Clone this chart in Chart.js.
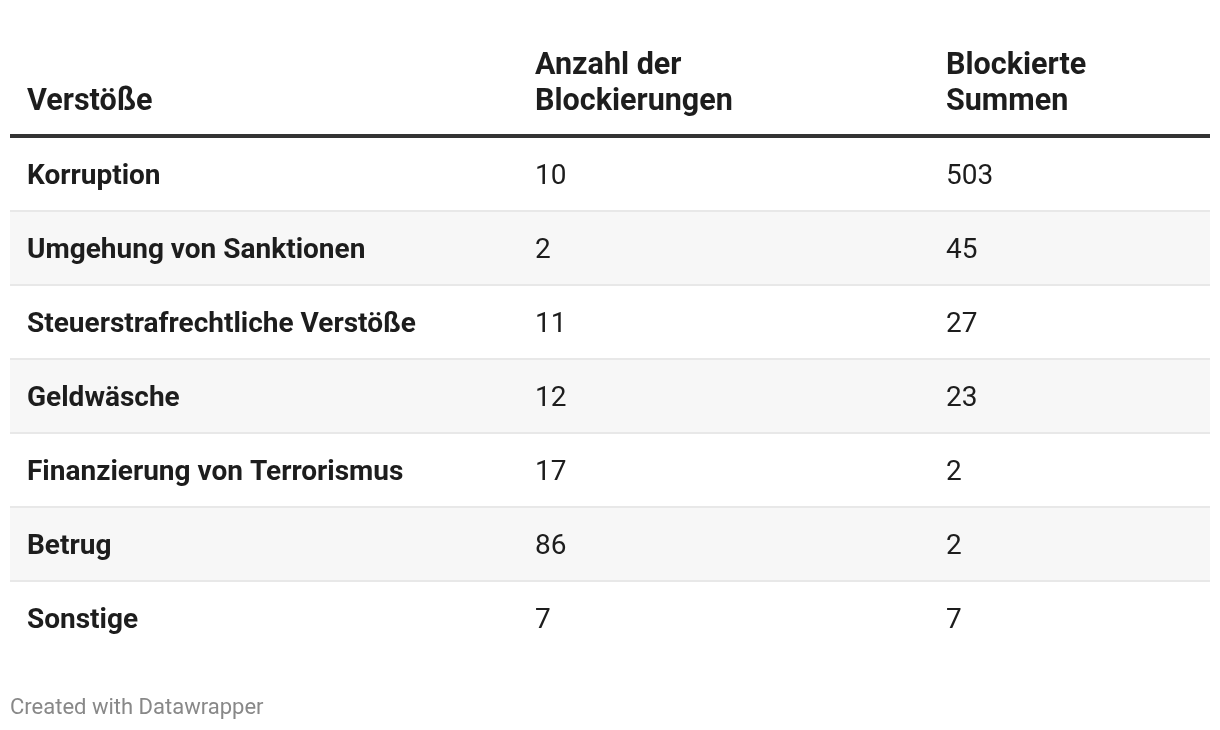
<!DOCTYPE html>
<html>
<head>
<meta charset="utf-8">
<script src="https://cdn.jsdelivr.net/npm/chart.js@4.4.1/dist/chart.umd.min.js"></script>
<style>
  html, body { margin: 0; padding: 0; background: #fff; }
  canvas { display: block; }
</style>
</head>
<body>
<canvas id="table" width="1220" height="730"></canvas>
<script>
// table content
const headers = [['Verstöße'], ['Anzahl der', 'Blockierungen'], ['Blockierte', 'Summen']];
const offenses = ['Korruption', 'Umgehung von Sanktionen', 'Steuerstrafrechtliche Verstöße', 'Geldwäsche',
                  'Finanzierung von Terrorismus', 'Betrug', 'Sonstige'];
const blockCounts = [10, 2, 11, 12, 17, 86, 7];
const blockedSums = [503, 45, 27, 23, 2, 2, 7];
const footer = 'Created with Datawrapper';

// column start positions on the (hidden) x scale
const colStarts = [17, 525, 936];

const FONT = 'Roboto, "Noto Sans", sans-serif';
const TEXT = '#1d1d1d';

const tablePlugin = {
    id: 'tableCells',
    beforeDraw(chart) {
        const { ctx, chartArea, scales: { x, y } } = chart;
        const band = y.getPixelForValue(1) - y.getPixelForValue(0);
        ctx.save();
        ctx.fillStyle = '#fff';
        ctx.fillRect(0, 0, chart.width, chart.height);

        // zebra stripes + separators
        offenses.forEach((_, i) => {
            const top = y.getPixelForValue(i) - band / 2;
            if (i % 2 === 1) {
                ctx.fillStyle = '#f7f7f7';
                ctx.fillRect(chartArea.left, top + 1, chartArea.right - chartArea.left, band - 2);
            }
            if (i < offenses.length - 1) {
                ctx.fillStyle = '#e8e8e8';
                ctx.fillRect(chartArea.left, top + band - 1, chartArea.right - chartArea.left, 2);
            }
        });

        // header rule
        ctx.fillStyle = '#333';
        ctx.fillRect(chartArea.left, chartArea.top - 3, chartArea.right - chartArea.left, 4);

        // header text, bottom aligned
        ctx.fillStyle = TEXT;
        ctx.font = 'bold 30.5px ' + FONT;
        ctx.textBaseline = 'alphabetic';
        headers.forEach((lines, c) => {
            const px = x.getPixelForValue(colStarts[c]);
            lines.slice().reverse().forEach((line, k) => {
                ctx.fillText(line, px, 110 - k * 36);
            });
        });

        // body cells
        offenses.forEach((name, i) => {
            const cy = y.getPixelForValue(i) + 10;
            ctx.font = 'bold 28px ' + FONT;
            ctx.fillText(name, x.getPixelForValue(colStarts[0]), cy);
            ctx.font = '28px ' + FONT;
            ctx.fillText(String(blockCounts[i]), x.getPixelForValue(colStarts[1]), cy);
            ctx.fillText(String(blockedSums[i]), x.getPixelForValue(colStarts[2]), cy);
        });

        // footer
        ctx.fillStyle = '#888';
        ctx.font = '22px ' + FONT;
        ctx.fillText(footer, 10, 714);
        ctx.restore();
    }
};

new Chart(document.getElementById('table'), {
    type: 'bar',
    data: { labels: offenses, datasets: [] },
    options: {
        indexAxis: 'y',
        responsive: false,
        animation: false,
        devicePixelRatio: 1,
        layout: { padding: { left: 10, right: 10, top: 137, bottom: 75 } },
        plugins: { legend: { display: false }, tooltip: { enabled: false } },
        scales: {
            x: { type: 'linear', min: 0, max: 1200, display: false },
            y: { type: 'category', offset: true, display: false }
        }
    },
    plugins: [tablePlugin]
});
</script>
</body>
</html>
